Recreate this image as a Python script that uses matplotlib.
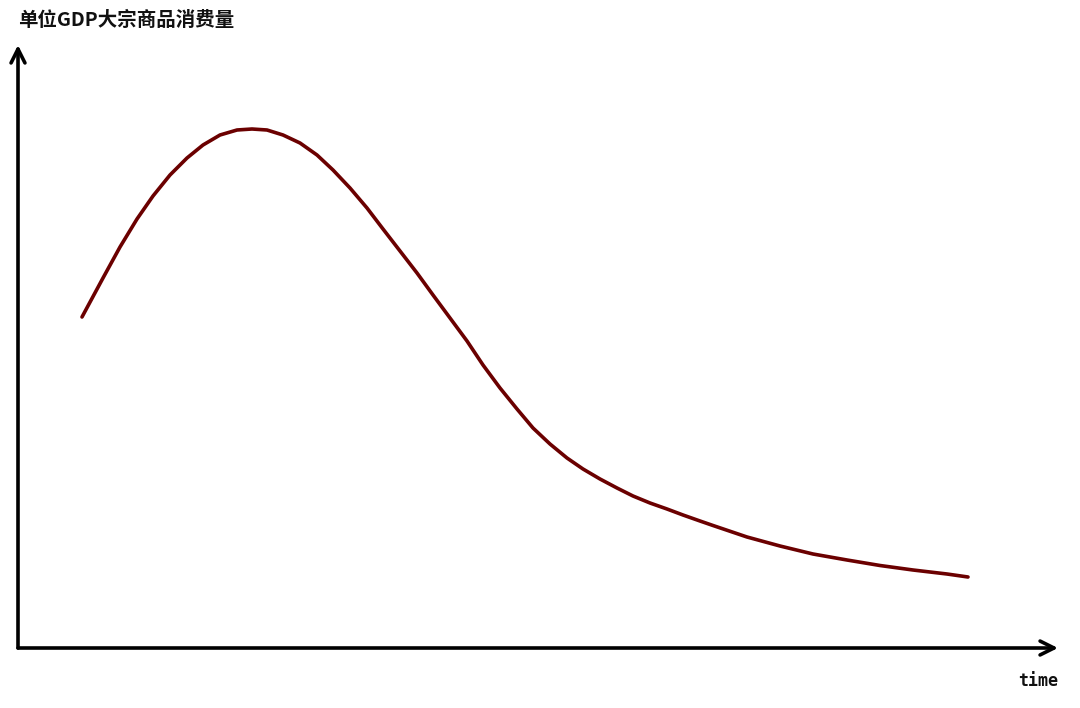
import numpy as np
import matplotlib.pyplot as plt

plt.rcParams['font.family'] = ['Noto Sans CJK SC', 'DejaVu Sans']

# Curve (time and value in arbitrary units)
time = [6.4, 8.5, 10.2, 11.9, 13.5, 15.2, 16.9, 18.5, 20.2, 21.9, 23.4,
        24.9, 26.5, 28.2, 29.9, 31.5, 33.2, 34.9, 36.5, 38.2, 39.9, 41.5,
        43.2, 44.9, 46.5, 48.2, 49.9, 51.5, 53.2, 54.9, 56.5, 58.2, 59.9,
        61.5, 63.2, 64.9, 66.5, 68.2, 69.5, 72.9, 76.2, 79.5, 82.9, 86.2,
        89.5, 92.9, 95.0]
value = [33.1, 37.0, 40.1, 42.9, 45.2, 47.3, 49.0, 50.3, 51.3, 51.8, 51.9,
         51.8, 51.3, 50.5, 49.3, 47.8, 46.0, 44.0, 41.9, 39.7, 37.5, 35.3,
         33.0, 30.7, 28.3, 26.0, 23.9, 22.0, 20.4, 19.0, 17.9, 16.9, 16.0,
         15.2, 14.5, 13.9, 13.3, 12.7, 12.25, 11.1, 10.2, 9.4, 8.8, 8.25,
         7.8, 7.4, 7.1]

title = '单位GDP大宗商品消费量'
xlabel = 'time'

fig = plt.figure(figsize=(10.8, 7.08), dpi=100)
ax = fig.add_axes([0, 0, 1, 1])
ax.set_xlim(-1.8, 106.2)
ax.set_ylim(-6.0, 64.8)
ax.axis('off')

# axes drawn as arrows
arrow = dict(arrowstyle='->,head_length=1.0,head_width=0.5', lw=2.6,
             color='black', shrinkA=0, shrinkB=0)
ax.annotate('', xy=(104.0, 0), xytext=(0, 0), arrowprops=arrow)
ax.annotate('', xy=(0, 60.3), xytext=(0, 0), arrowprops=arrow)

ax.plot(time, value, color='#6b0000', lw=2.6, solid_capstyle='round',
        solid_joinstyle='round')

ax.text(0, 62.8, title, fontsize=14, fontweight='bold', ha='left',
        va='center', color='#111111')
ax.text(104.0, -3.3, xlabel, fontsize=12, fontweight='bold', ha='right',
        va='center', family='DejaVu Sans Mono', color='#111111')

fig.savefig('out.png', dpi=100, facecolor='white')
